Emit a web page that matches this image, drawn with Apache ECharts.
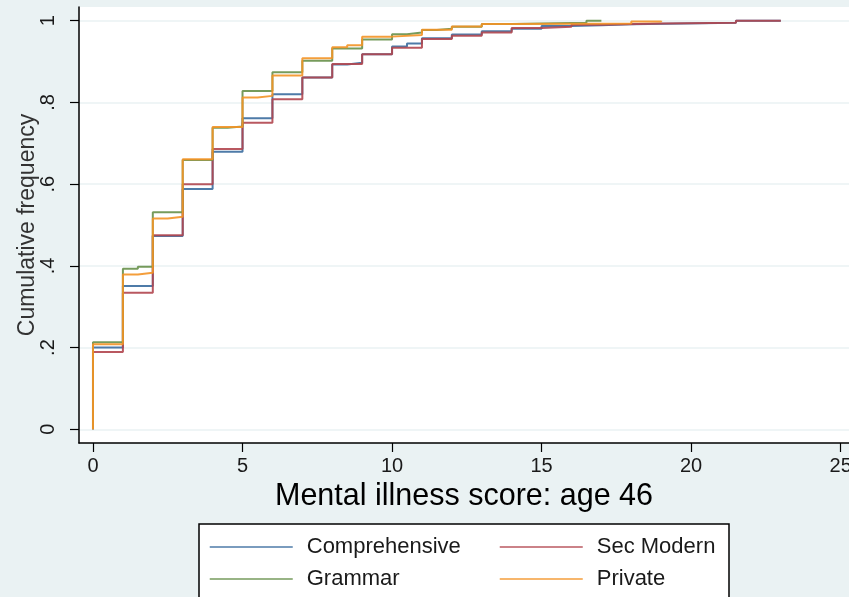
<!DOCTYPE html>
<html>
<head>
<meta charset="utf-8">
<script src="https://cdn.jsdelivr.net/npm/echarts@6/dist/echarts.min.js"></script>
<style>
  html, body { margin: 0; padding: 0; background: #eaf2f3; overflow: hidden; }
  #chart { width: 849px; height: 597px; }
</style>
</head>
<body>
<div id="chart"></div>
<script>
// Cumulative frequency of the age-46 mental illness score, by school type.
// Each pair is [score, cumulative share]; the curve steps up at each score.
const comprehensive = [
  [0, 0], [0, 0.200], [1, 0.351], [2, 0.473], [3, 0.588], [4, 0.679], [5, 0.761],
  [6, 0.820], [7, 0.861], [8, 0.893], [8.5, 0.897], [9, 0.918], [10, 0.937],
  [10.5, 0.944], [11, 0.957], [12, 0.966], [13, 0.974], [14, 0.980], [15, 0.987],
  [16, 0.989], [17, 0.991], [18, 0.995], [21.5, 1.0], [23, 1.0]
];
const secModern = [
  [0, 0], [0, 0.189], [1, 0.334], [2, 0.475], [3, 0.600], [4, 0.686], [5, 0.750],
  [6, 0.808], [7, 0.861], [8, 0.894], [9, 0.918], [10, 0.934], [11, 0.955],
  [12, 0.963], [13, 0.971], [14, 0.982], [15, 0.985], [16, 0.990], [17, 0.993],
  [19, 0.995], [21.5, 1.0], [23, 1.0]
];
const grammar = [
  [0, 0], [0, 0.213], [1, 0.393], [1.5, 0.398], [2, 0.531], [3, 0.659], [4, 0.738],
  [4.5, 0.741], [5, 0.828], [6, 0.874], [7, 0.902], [8, 0.932], [9, 0.954],
  [10, 0.967], [10.5, 0.971], [11, 0.977], [11.5, 0.980], [12, 0.985], [13, 0.992],
  [14, 0.995], [16.5, 1.0], [17, 1.0]
];
const privateSchool = [
  [0, 0], [0, 0.208], [1, 0.379], [1.5, 0.383], [2, 0.516], [2.5, 0.520], [3, 0.661],
  [4, 0.740], [5, 0.812], [5.5, 0.816], [6, 0.866], [7, 0.908], [8, 0.935],
  [8.5, 0.940], [9, 0.961], [10, 0.965], [11, 0.978], [12, 0.986], [13, 0.992],
  [14, 0.993], [18, 0.998], [19, 1.0]
];

const seriesNames = ['Comprehensive', 'Sec Modern', 'Grammar', 'Private'];
const seriesData = [comprehensive, secModern, grammar, privateSchool];
const seriesColors = ['#3b6d9e', '#b1464f', '#67904a', '#f39426'];

const xTicks = [0, 5, 10, 15, 20, 25];
const yTicks = [0, 0.2, 0.4, 0.6, 0.8, 1];

const yLabel = v => (v === 0 || v === 1) ? String(v) : String(v).replace(/^0/, '');

const chart = echarts.init(document.getElementById('chart'));

const legendCommon = {
  orient: 'vertical',
  top: 536,
  padding: 0,
  itemWidth: 83,
  itemHeight: 22,
  itemGap: 10,
  z: 5,
  selectedMode: false,
  itemStyle: { opacity: 0 },
  lineStyle: { width: 1.5 },
  textStyle: {
    fontFamily: 'Liberation Sans, Arial, sans-serif',
    fontSize: 22,
    color: '#1a1a1a',
    padding: [0, 0, 0, 9]
  }
};

chart.setOption({
  animation: false,
  backgroundColor: '#eaf2f3',
  textStyle: { fontFamily: 'Liberation Sans, Arial, sans-serif' },
  grid: {
    left: 79, right: 0, top: 7, bottom: 154,
    outerBoundsMode: 'none',
    show: true, backgroundColor: '#ffffff', borderWidth: 0
  },
  graphic: [{
    type: 'rect',
    z: 0,
    shape: { x: 199, y: 524, width: 530, height: 100 },
    style: { fill: '#ffffff', stroke: '#000000', lineWidth: 1.5 }
  }],
  legend: [
    Object.assign({}, legendCommon, { left: 209, data: [seriesNames[0], seriesNames[2]] }),
    Object.assign({}, legendCommon, { left: 499, data: [seriesNames[1], seriesNames[3]] })
  ],
  xAxis: {
    type: 'value',
    min: -0.468,
    max: 25.28,
    name: 'Mental illness score: age 46',
    nameLocation: 'middle',
    nameGap: 33,
    nameTextStyle: { fontSize: 30.5, color: '#000000' },
    axisLine: { show: true, onZero: false, lineStyle: { color: '#000000', width: 1.5 } },
    axisTick: { show: true, customValues: xTicks, length: 9, lineStyle: { color: '#000000', width: 1.2 } },
    axisLabel: { customValues: xTicks, fontSize: 20, margin: 13, color: '#1a1a1a' },
    splitLine: { show: false }
  },
  yAxis: {
    type: 'value',
    min: -0.0335,
    max: 1.0335,
    name: 'Cumulative frequency',
    nameLocation: 'middle',
    nameGap: 40,
    nameMoveOverlap: false,
    nameTextStyle: { fontSize: 23, color: '#333333' },
    axisLine: { show: true, onZero: false, lineStyle: { color: '#000000', width: 1.5 } },
    axisTick: { show: true, customValues: yTicks, length: 9, lineStyle: { color: '#000000', width: 1.2 } },
    axisLabel: { customValues: yTicks, rotate: 90, fontSize: 20, margin: 21, color: '#1a1a1a', formatter: yLabel },
    splitLine: { show: true, lineStyle: { color: '#eaf2f3', width: 1.5 } }
  },
  series: seriesNames.map((name, i) => ({
    name: name,
    type: 'line',
    step: 'end',
    data: seriesData[i],
    symbol: 'none',
    showSymbol: false,
    z: 2 + i,
    color: seriesColors[i],
    lineStyle: { width: 2, color: seriesColors[i], opacity: 0.9 }
  }))
});
</script>
</body>
</html>
